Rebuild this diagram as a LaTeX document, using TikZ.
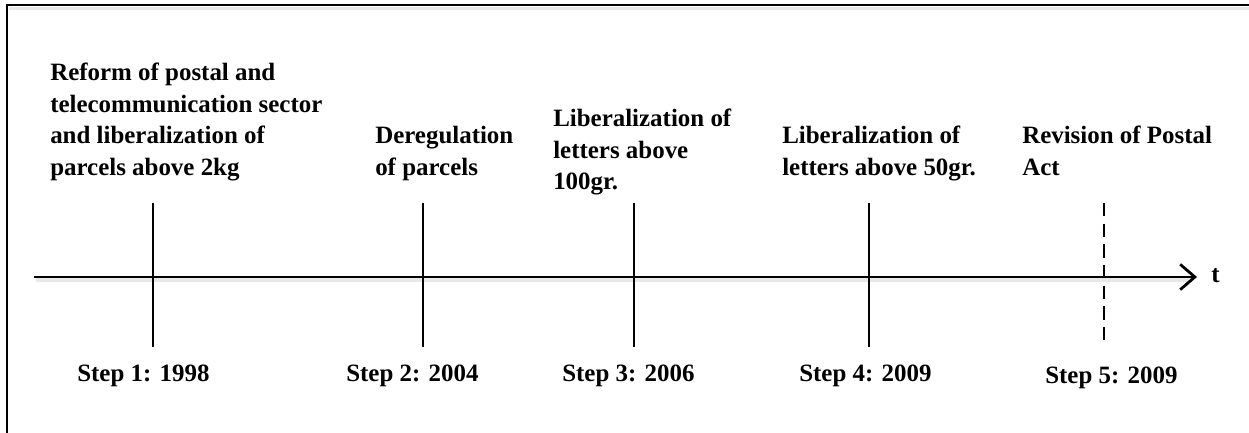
\documentclass[tikz,border=0pt]{standalone}
\usepackage{fontspec}
\setmainfont{Liberation Serif}
\usetikzlibrary{arrows.meta}

\tikzset{
  lbl/.style={anchor=north west, inner sep=0pt, align=left, font=\bfseries\fontsize{18.7}{23.6}\selectfont},
  steplbl/.style={anchor=base west, inner sep=0pt, font=\bfseries\fontsize{18.7}{23.6}\selectfont},
  tickline/.style={line width=1.8pt},
  shade/.style={black!9, line width=2.5pt}
}

\begin{document}
\begin{tikzpicture}[x=0.75pt,y=0.75pt,yscale=-1,xscale=1]
\useasboundingbox (0,0) rectangle (1249,432);

%Frame
\draw [shade] (9,8.5) -- (1260,8.5) ;
\draw [line width=1.2pt] (7,460) -- (7,5) -- (1260,5) ;

%Time axis
\coordinate (t0) at (34,277) ;
\coordinate (t1) at (1197,277) ;
\draw [shade] (36,280) -- (1192,280) ;
\draw [line width=2.1pt, -{Straight Barb[length=11pt,width=19pt,line width=2.1pt]}] (t0) -- (t1) ;

%Steps
\foreach \n/\xx in {a/153, b/423, c/634, d/869}{
  \coordinate (\n top) at (\xx,203) ;
  \coordinate (\n bot) at (\xx,347) ;
  \draw [tickline] (\n top) -- (\n bot) ;
}
\coordinate (e top) at (1104,203) ;
\coordinate (e bot) at (1104,347) ;
\draw [tickline, dash pattern=on 10pt off 5.5pt] (e top) -- (e bot) ;

% Text Node
\node [lbl] (reform) at (50,63) {Reform of postal and\\telecommunication sector\\and liberalization of\\parcels above 2kg};
% Text Node
\node [lbl] (dereg) at (375,126) {Deregulation\\of parcels};
% Text Node
\node [lbl] (lib100) at (553,109) {Liberalization of\\letters above\\100gr.};
% Text Node
\node [lbl] (lib50) at (782,126) {Liberalization of\\letters above 50gr.};
% Text Node
\node [lbl] (revision) at (1022,126) {Revision of Postal\\Act};

% Text Node
\node [steplbl] (s1) at (77,381) {Step 1: 1998};
\node [steplbl] (s2) at (346,381) {Step 2: 2004};
\node [steplbl] (s3) at (562,381) {Step 3: 2006};
\node [steplbl] (s4) at (799,381) {Step 4: 2009};
\node [steplbl] (s5) at (1045,383) {Step 5: 2009};

% Text Node
\node [steplbl] (tlbl) at (1211,282) {t};

\end{tikzpicture}
\end{document}
